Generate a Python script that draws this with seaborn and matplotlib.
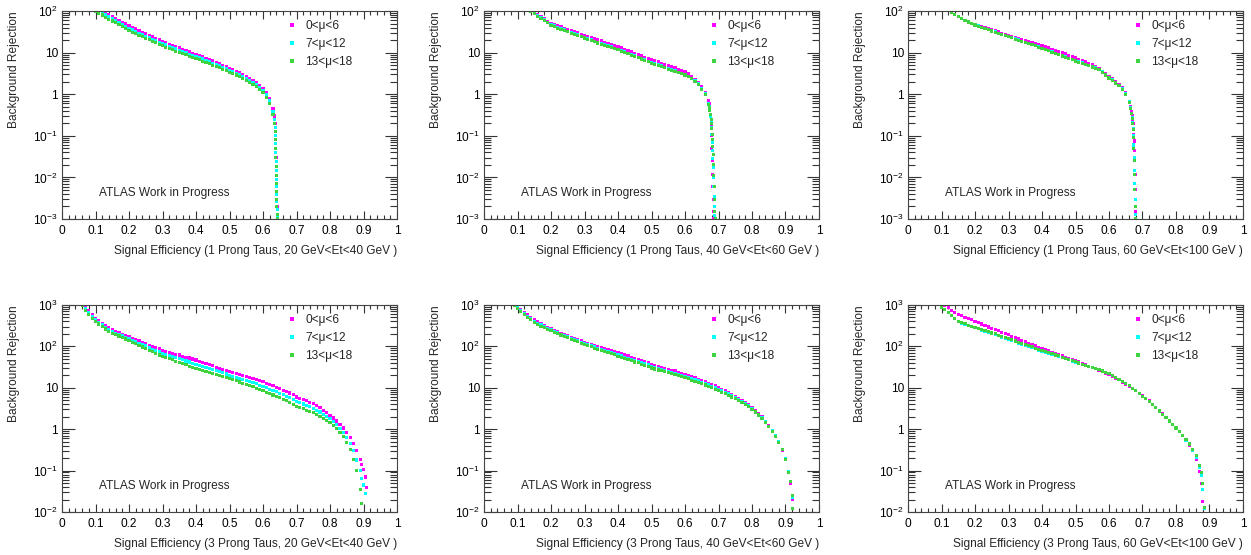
import numpy as np
import pandas as pd
import matplotlib
matplotlib.use("Agg")
import matplotlib.pyplot as plt
from matplotlib.ticker import MultipleLocator, FuncFormatter, LogLocator, NullFormatter
import seaborn as sns

# ---------------------------------------------------------------
# values (x = signal eff., y = bkg rejection)
# None = point lies outside the visible range for that series
# ---------------------------------------------------------------
labels = ["0<\u03bc<6", "7<\u03bc<12", "13<\u03bc<18"]
colors = ["#ff00ff", "#00ffff", "#3fd43f"]

# 1 prong, 20 GeV < Et < 40 GeV
x_1p_20 = [0.10, 0.11, 0.12, 0.13, 0.14, 0.15, 0.16, 0.17, 0.18, 0.19,
           0.20, 0.21, 0.22, 0.23, 0.24, 0.25, 0.26, 0.27, 0.28, 0.29,
           0.30, 0.31, 0.32, 0.33, 0.34, 0.35, 0.36, 0.37, 0.38, 0.39,
           0.40, 0.41, 0.42, 0.43, 0.44, 0.45, 0.46, 0.47, 0.48, 0.49,
           0.50, 0.51, 0.52, 0.53, 0.54, 0.55, 0.56, 0.57, 0.58, 0.59,
           0.60, 0.61, 0.62, 0.63,
           0.634, 0.636, 0.637, 0.638, 0.6385, 0.639, 0.6395, 0.640, 0.6405, 0.641,
           0.6415, 0.642, 0.6425, 0.643]
y_1p_20_mu0 = [None, None, 100, 90, 82, 74, 67, 60, 54, 49,
               44, 40.5, 37, 34, 31, 28.5, 26, 24, 22, 20.2,
               18.5, 17.2, 16, 14.9, 13.8, 12.9, 12, 11.2, 10.4, 9.7,
               9.1, 8.5, 7.9, 7.3, 6.8, 6.3, 5.9, 5.4, 5.0, 4.6,
               4.2, 3.9, 3.6, 3.3, 3.0, 2.7, 2.4, 2.15, 1.9, 1.65,
               1.4, 1.1, 0.8, 0.45,
               0.3, 0.2, 0.13, 0.08, 0.05, 0.03, 0.018, 0.011, 0.007, 0.0045,
               0.003, 0.002, 0.0013, 0.001]
y_1p_20_mu7 = [None, 100, 89, 80, 72, 65, 58.5, 52.5, 47, 42.5,
               38.5, 35, 32, 29.3, 27, 24.8, 22.8, 21, 19.3, 17.8,
               16.4, 15.2, 14.1, 13.1, 12.2, 11.4, 10.6, 9.9, 9.2, 8.6,
               8.1, 7.5, 7.0, 6.5, 6.0, 5.6, 5.2, 4.8, 4.45, 4.1,
               3.8, 3.5, 3.2, 2.95, 2.7, 2.42, 2.17, 1.92, 1.7, 1.47,
               1.25, 0.97, 0.7, 0.39,
               0.25, 0.16, 0.1, 0.065, 0.04, 0.024, 0.015, 0.009, 0.006, 0.004,
               0.0026, 0.0017, 0.0011, None]
y_1p_20_mu13 = [100, 89, 80, 71, 64, 57.5, 52, 46.5, 42, 38,
                34, 31, 28.5, 26, 24, 22, 20.2, 18.6, 17.1, 15.7,
                14.5, 13.4, 12.5, 11.6, 10.8, 10.1, 9.4, 8.8, 8.2, 7.7,
                7.2, 6.7, 6.2, 5.8, 5.4, 5.0, 4.7, 4.35, 4.0, 3.7,
                3.4, 3.15, 2.9, 2.65, 2.4, 2.17, 1.95, 1.72, 1.5, 1.3,
                1.1, 0.85, 0.6, 0.33,
                0.2, 0.13, 0.08, 0.05, 0.03, 0.018, 0.011, 0.007, 0.0045, 0.003,
                0.002, 0.0013, 0.001, None]

# 1 prong, 40 GeV < Et < 60 GeV
x_1p_40 = [0.13, 0.14, 0.15, 0.16, 0.17, 0.18, 0.19, 0.20, 0.21, 0.22,
           0.23, 0.24, 0.25, 0.26, 0.27, 0.28, 0.29, 0.30, 0.31, 0.32,
           0.33, 0.34, 0.35, 0.36, 0.37, 0.38, 0.39, 0.40, 0.41, 0.42,
           0.43, 0.44, 0.45, 0.46, 0.47, 0.48, 0.49, 0.50, 0.51, 0.52,
           0.53, 0.54, 0.55, 0.56, 0.57, 0.58, 0.59, 0.60, 0.61, 0.62,
           0.63, 0.64, 0.65, 0.66, 0.67,
           0.672, 0.674, 0.676, 0.678, 0.679, 0.680, 0.681, 0.682, 0.683, 0.684,
           0.685, 0.686, 0.687, 0.688, 0.689, 0.690]
y_1p_40_mu0 = [None, None, 95, 83, 72, 64.5, 57, 50, 46.8, 43.7,
               41.2, 38.5, 35.9, 33.9, 31.6, 29.9, 27.9, 26.3, 24.5, 22.9,
               21.6, 20.2, 19.1, 17.8, 16.8, 15.7, 14.8, 13.8, 12.9, 12.0,
               11.2, 10.5, 9.7, 9.0, 8.4, 7.8, 7.2, 6.8, 6.3, 5.96,
               5.56, 5.19, 4.9, 4.57, 4.27, 3.98, 3.72, 3.47, 3.09, 2.69,
               2.29, 1.9, 1.51, 1.12, 0.72,
               0.6, 0.45, 0.3, 0.18, 0.1, 0.05, 0.025, 0.012, 0.006, 0.003,
               0.0015, 0.001, None, None, None, None]
y_1p_40_mu7 = [None, 98, 88, 77, 68, 61, 54, 47, 43.5, 40,
               37.4, 34.9, 32.5, 30.4, 28.3, 26.5, 24.7, 23.1, 21.5, 20.1,
               18.7, 17.5, 16.5, 15.4, 14.4, 13.6, 12.7, 11.9, 11.1, 10.4,
               9.7, 9.0, 8.3, 7.7, 7.2, 6.7, 6.2, 5.8, 5.4, 5.05,
               4.75, 4.45, 4.15, 3.9, 3.65, 3.4, 3.2, 3.0, 2.7, 2.42,
               2.1, 1.78, 1.35, 1.02, 0.6,
               0.5, 0.4, 0.3, 0.22, 0.16, 0.11, 0.07, 0.045, 0.028, 0.017,
               0.01, 0.006, 0.0035, 0.002, 0.0012, None]
y_1p_40_mu13 = [None, 95, 85, 75, 66, 59, 52.5, 45.7, 42.2, 38.9,
                36.3, 33.9, 31.6, 29.5, 27.5, 25.7, 24.0, 22.4, 20.9, 19.5,
                18.2, 17.0, 16.0, 15.0, 14.0, 13.2, 12.3, 11.6, 10.8, 10.1,
                9.4, 8.7, 8.1, 7.5, 7.0, 6.5, 6.0, 5.6, 5.2, 4.9,
                4.6, 4.3, 4.0, 3.8, 3.55, 3.3, 3.1, 2.9, 2.6, 2.35,
                2.05, 1.74, 1.3, 1.0, 0.56,
                0.48, 0.4, 0.32, 0.25, 0.2, 0.15, 0.11, 0.08, 0.055, 0.035,
                0.02, 0.011, 0.006, 0.003, 0.0015, 0.001]

# 1 prong, 60 GeV < Et < 100 GeV
x_1p_60 = [0.12, 0.13, 0.14, 0.15, 0.16, 0.17, 0.18, 0.19, 0.20, 0.21,
           0.22, 0.23, 0.24, 0.25, 0.26, 0.27, 0.28, 0.29, 0.30, 0.31,
           0.32, 0.33, 0.34, 0.35, 0.36, 0.37, 0.38, 0.39, 0.40, 0.41,
           0.42, 0.43, 0.44, 0.45, 0.46, 0.47, 0.48, 0.49, 0.50, 0.51,
           0.52, 0.53, 0.54, 0.55, 0.56, 0.57, 0.58, 0.59, 0.60, 0.61,
           0.62, 0.63, 0.64, 0.65, 0.66,
           0.665, 0.668, 0.670, 0.671, 0.672, 0.673, 0.674, 0.675, 0.676, 0.677,
           0.678, 0.679, 0.680]
y_1p_60_mu0 = [None, 91, 81, 72, 66, 60, 55, 51, 48, 44.7,
               42.2, 39.4, 37.2, 35.1, 33.1, 31.3, 29.5, 27.9, 26.3, 24.8,
               23.4, 22.1, 20.9, 19.7, 18.6, 17.6, 16.4, 15.5, 14.5, 13.6,
               12.9, 12.0, 11.4, 10.7, 10.0, 9.3, 8.7, 8.1, 7.5, 6.9,
               6.5, 6.0, 5.6, 5.1, 4.7, 4.15, 3.6, 3.2, 2.7, 2.35,
               2.0, 1.74, 1.45, 1.1, 0.68,
               0.5, 0.38, 0.3, 0.25, 0.2, 0.15, 0.11, 0.075, 0.045, 0.025,
               0.012, 0.005, 0.0015]
y_1p_60_mu7 = [None, 92, 82, 73, 66, 60, 55, 50.5, 46.7, 43.6,
               40.7, 38, 35.5, 33.4, 31.2, 29.5, 27.5, 26, 24.3, 22.9,
               21.4, 20.2, 18.8, 17.8, 16.6, 15.7, 14.7, 13.7, 12.8, 11.9,
               11.2, 10.4, 9.7, 9.1, 8.5, 7.9, 7.3, 6.9, 6.4, 6.0,
               5.7, 5.3, 4.9, 4.6, 4.3, 3.95, 3.5, 3.0, 2.55, 2.2,
               1.9, 1.62, 1.35, 1.02, 0.65,
               0.47, 0.35, 0.27, 0.21, 0.15, 0.1, 0.06, 0.03, 0.015, 0.007,
               0.003, 0.0013, None]
y_1p_60_mu13 = [None, 91, 81, 72, 65, 59.6, 54.3, 50, 46.2, 43.2,
                40.3, 37.6, 35.1, 33.1, 30.9, 29.2, 27.2, 25.7, 24.0, 22.6,
                21.1, 20.0, 18.6, 17.6, 16.4, 15.5, 14.5, 13.5, 12.6, 11.7,
                11.0, 10.2, 9.5, 8.9, 8.3, 7.8, 7.2, 6.8, 6.3, 5.9,
                5.6, 5.2, 4.8, 4.5, 4.2, 3.85, 3.4, 2.9, 2.45, 2.14,
                1.86, 1.58, 1.32, 1.0, 0.63,
                0.46, 0.34, 0.26, 0.2, 0.14, 0.09, 0.05, 0.025, 0.012, 0.005,
                0.002, 0.001, None]

# 3 prong, 20 GeV < Et < 40 GeV
x_3p_20 = [0.06, 0.07, 0.08, 0.09, 0.10, 0.11, 0.12, 0.13, 0.14, 0.15,
           0.16, 0.17, 0.18, 0.19, 0.20, 0.21, 0.22, 0.23, 0.24, 0.25,
           0.26, 0.27, 0.28, 0.29, 0.30, 0.31, 0.32, 0.33, 0.34, 0.35,
           0.36, 0.37, 0.38, 0.39, 0.40, 0.41, 0.42, 0.43, 0.44, 0.45,
           0.46, 0.47, 0.48, 0.49, 0.50, 0.51, 0.52, 0.53, 0.54, 0.55,
           0.56, 0.57, 0.58, 0.59, 0.60, 0.61, 0.62, 0.63, 0.64, 0.65,
           0.66, 0.67, 0.68, 0.69, 0.70, 0.71, 0.72, 0.73, 0.74, 0.75,
           0.76, 0.77, 0.78, 0.79, 0.80, 0.81, 0.82, 0.83, 0.84, 0.85,
           0.86, 0.87, 0.88, 0.89,
           0.895, 0.900, 0.905, 0.910]
y_3p_20_mu0 = [None, 890, 725, 590, 480, 417, 363, 324, 285, 251,
               229, 211, 195, 182, 170, 157, 145, 135, 124, 116,
               107, 100, 93, 87, 81, 77, 72, 69, 65, 62,
               58, 55, 52.5, 49.5, 47, 44, 41, 38.5, 36, 34,
               31.6, 29.9, 27.9, 26.3, 24.5, 23.2, 21.9, 20.7, 19.5, 18.6,
               17.6, 16.6, 15.7, 14.8, 14.0, 13.0, 12.0, 11.2, 10.4, 9.5,
               8.8, 8.1, 7.5, 6.8, 6.0, 5.6, 5.25, 4.85, 4.5, 4.2,
               3.7, 3.3, 2.9, 2.5, 2.16, 1.86, 1.58, 1.32, 1.07, 0.83,
               0.63, 0.46, 0.30, 0.19,
               0.14, 0.107, 0.07, 0.04]
y_3p_20_mu7 = [None, 810, 655, 530, 440, 380, 330, 292, 258, 229,
               210, 194, 179, 166, 154, 141, 130, 120, 110, 102,
               93, 86, 80, 74, 68, 64, 60, 57, 53.5, 50.5,
               47.3, 44.4, 42, 39.5, 37.2, 35, 32.8, 30.9, 29, 27.4,
               25.7, 24.5, 22.9, 21.6, 20.3, 19.1, 18, 16.9, 15.9, 14.9,
               14, 13.2, 12.4, 11.6, 10.9, 10.1, 9.3, 8.7, 8.0, 7.4,
               6.8, 6.3, 5.8, 5.2, 4.65, 4.35, 4.05, 3.75, 3.5, 3.2,
               2.9, 2.6, 2.3, 2.02, 1.77, 1.51, 1.27, 1.05, 0.83, 0.63,
               0.45, 0.3, 0.18, 0.1,
               0.065, 0.045, 0.028, None]
y_3p_20_mu13 = [955, 740, 590, 480, 400, 347, 302, 263, 234, 209,
                193, 178, 164, 151, 140, 127, 116, 106, 97, 89,
                81, 74, 68, 62, 57.5, 53.7, 50, 47.3, 44.2, 41.2,
                38.5, 35.9, 33.5, 31.6, 29.5, 27.9, 26.3, 24.8, 23.4, 22.1,
                20.9, 20.0, 18.8, 17.8, 16.8, 15.8, 14.8, 13.8, 12.9, 12.0,
                11.2, 10.5, 9.8, 9.1, 8.5, 7.85, 7.2, 6.7, 6.2, 5.7,
                5.25, 4.85, 4.5, 4.0, 3.6, 3.4, 3.15, 2.9, 2.7, 2.5,
                2.3, 2.07, 1.84, 1.64, 1.45, 1.23, 1.02, 0.83, 0.65, 0.48,
                0.32, 0.19, 0.1, 0.035,
                0.016, None, None, None]

# 3 prong, 40 GeV < Et < 60 GeV
x_3p_40 = [0.09, 0.10, 0.11, 0.12, 0.13, 0.14, 0.15, 0.16, 0.17, 0.18,
           0.19, 0.20, 0.21, 0.22, 0.23, 0.24, 0.25, 0.26, 0.27, 0.28,
           0.29, 0.30, 0.31, 0.32, 0.33, 0.34, 0.35, 0.36, 0.37, 0.38,
           0.39, 0.40, 0.41, 0.42, 0.43, 0.44, 0.45, 0.46, 0.47, 0.48,
           0.49, 0.50, 0.51, 0.52, 0.53, 0.54, 0.55, 0.56, 0.57, 0.58,
           0.59, 0.60, 0.61, 0.62, 0.63, 0.64, 0.65, 0.66, 0.67, 0.68,
           0.69, 0.70, 0.71, 0.72, 0.73, 0.74, 0.75, 0.76, 0.77, 0.78,
           0.79, 0.80, 0.81, 0.82, 0.83, 0.84, 0.85, 0.86, 0.87, 0.88,
           0.89, 0.90, 0.91,
           0.915, 0.920, 0.922]
y_3p_40_mu0 = [None, 890, 760, 660, 575, 500, 437, 390, 350, 316,
               288, 263, 243, 224, 209, 193, 180, 166, 155, 145,
               135, 126, 119, 112, 106, 100, 94, 89, 85, 80,
               76, 72, 67, 62, 59, 55, 51, 48.4, 45.2, 42.2,
               39.8, 37.2, 35.1, 33.1, 31.6, 29.9, 28.2, 26.6, 25.4, 24.0,
               22.6, 21.4, 20.0, 18.6, 17.4, 16.2, 15.1, 14.1, 13.0, 12.0,
               11.1, 10.2, 9.3, 8.5, 7.8, 7.0, 6.3, 5.6, 5.0, 4.4,
               3.85, 3.3, 2.8, 2.37, 1.97, 1.55, 1.2, 0.91, 0.68, 0.48,
               0.31, 0.19, 0.09,
               0.05, 0.02, None]
y_3p_40_mu7 = [None, 850, 720, 620, 540, 465, 405, 365, 328, 298,
               273, 250, 231, 213, 197, 182, 170, 157, 145, 136,
               126, 117, 110, 104, 97, 91, 86, 81, 77, 72,
               67, 63, 59, 55, 52, 48.5, 45.5, 43, 40.5, 38,
               35.5, 33, 31.2, 29.5, 28, 26.6, 25.1, 23.8, 22.6, 21.3,
               20.1, 19, 17.9, 16.8, 15.8, 14.7, 13.7, 12.8, 11.9, 11.0,
               10.1, 9.2, 8.5, 7.8, 7.1, 6.5, 5.9, 5.3, 4.7, 4.15,
               3.65, 3.15, 2.7, 2.3, 1.92, 1.53, 1.19, 0.92, 0.69, 0.5,
               0.33, 0.2, 0.095,
               0.055, 0.022, None]
y_3p_40_mu13 = [1000, 810, 690, 590, 510, 440, 380, 343, 309, 282,
                260, 240, 221, 204, 188, 174, 162, 150, 138, 129,
                119, 110, 104, 98, 91, 86, 81, 76, 72, 68,
                63, 58, 55, 51, 48, 45, 42, 40, 37, 35,
                32.5, 30, 28.5, 26.9, 25.7, 24.3, 22.9, 21.9, 20.7, 19.5,
                18.4, 17.4, 16.4, 15.3, 14.5, 13.5, 12.6, 11.7, 11.0, 10.1,
                9.2, 8.5, 7.85, 7.2, 6.5, 6.0, 5.5, 4.95, 4.4, 3.9,
                3.5, 3.0, 2.6, 2.2, 1.84, 1.48, 1.15, 0.88, 0.66, 0.48,
                0.32, 0.19, 0.09,
                0.055, 0.025, 0.012]

# 3 prong, 60 GeV < Et < 100 GeV
x_3p_60 = [0.09, 0.10, 0.11, 0.12, 0.13, 0.14, 0.15, 0.16, 0.17, 0.18,
           0.19, 0.20, 0.21, 0.22, 0.23, 0.24, 0.25, 0.26, 0.27, 0.28,
           0.29, 0.30, 0.31, 0.32, 0.33, 0.34, 0.35, 0.36, 0.37, 0.38,
           0.39, 0.40, 0.41, 0.42, 0.43, 0.44, 0.45, 0.46, 0.47, 0.48,
           0.49, 0.50, 0.51, 0.52, 0.53, 0.54, 0.55, 0.56, 0.57, 0.58,
           0.59, 0.60, 0.61, 0.62, 0.63, 0.64, 0.65, 0.66, 0.67, 0.68,
           0.69, 0.70, 0.71, 0.72, 0.73, 0.74, 0.75, 0.76, 0.77, 0.78,
           0.79, 0.80, 0.81, 0.82, 0.83, 0.84, 0.85, 0.86, 0.87,
           0.875, 0.880, 0.885]
y_3p_60_mu0 = [None, None, 955, 850, 740, 660, 596, 550, 507, 468,
               437, 407, 376, 347, 320, 295, 275, 254, 237, 219,
               204, 190, 176, 162, 151, 140, 129, 119, 110, 102,
               95, 89, 83, 78, 72, 68, 63, 59, 55, 51,
               48, 45, 42, 39, 36, 33.5, 31, 28.8, 26.6, 24.5,
               22.6, 21, 19, 17.2, 15.5, 13.8, 12.3, 10.8, 9.5, 8.4,
               7.4, 6.5, 5.6, 4.8, 4.0, 3.4, 2.8, 2.35, 1.95, 1.6,
               1.32, 1.07, 0.87, 0.69, 0.54, 0.41, 0.3, 0.19, 0.095,
               0.05, 0.018, None]
y_3p_60_mu7 = [None, 900, 765, 645, 545, 465, 400, 368, 342, 320,
               300, 283, 264, 249, 232, 218, 204, 192, 179, 168,
               157, 148, 139, 129, 120, 112, 105, 99, 93, 87,
               82, 77, 73, 68, 64, 60, 57, 53.5, 50, 47.3,
               44.4, 42, 39.2, 36.8, 34.7, 32.4, 30.6, 28.6, 27, 25.2,
               23.6, 22, 20, 18, 16.1, 14.2, 12.6, 11.1, 9.7, 8.4,
               7.3, 6.3, 5.4, 4.7, 3.95, 3.3, 2.75, 2.3, 1.9, 1.58,
               1.3, 1.07, 0.88, 0.7, 0.55, 0.43, 0.31, 0.21, 0.12,
               0.075, 0.035, 0.012]
y_3p_60_mu13 = [None, 890, 760, 645, 550, 473, 407, 376, 350, 327,
                309, 292, 272, 257, 240, 226, 211, 200, 186, 176,
                164, 155, 145, 135, 126, 117, 110, 104, 98, 91,
                86, 81, 76, 71, 66, 62, 59, 55, 51, 48.4,
                45.2, 42.7, 39.8, 37.2, 35.1, 32.7, 30.9, 28.8, 27.2, 25.4,
                23.7, 22.1, 20, 18, 16, 14.1, 12.6, 11.1, 9.7, 8.4,
                7.3, 6.3, 5.4, 4.7, 3.9, 3.3, 2.75, 2.3, 1.9, 1.58,
                1.3, 1.07, 0.88, 0.71, 0.56, 0.44, 0.33, 0.23, 0.13,
                0.09, 0.05, 0.0126]

panels = [
    (x_1p_20, [y_1p_20_mu0, y_1p_20_mu7, y_1p_20_mu13], "Signal Efficiency (1 Prong Taus, 20 GeV<Et<40 GeV )", (1e-3, 1e2)),
    (x_1p_40, [y_1p_40_mu0, y_1p_40_mu7, y_1p_40_mu13], "Signal Efficiency (1 Prong Taus, 40 GeV<Et<60 GeV )", (1e-3, 1e2)),
    (x_1p_60, [y_1p_60_mu0, y_1p_60_mu7, y_1p_60_mu13], "Signal Efficiency (1 Prong Taus, 60 GeV<Et<100 GeV )", (1e-3, 1e2)),
    (x_3p_20, [y_3p_20_mu0, y_3p_20_mu7, y_3p_20_mu13], "Signal Efficiency (3 Prong Taus, 20 GeV<Et<40 GeV )", (1e-2, 1e3)),
    (x_3p_40, [y_3p_40_mu0, y_3p_40_mu7, y_3p_40_mu13], "Signal Efficiency (3 Prong Taus, 40 GeV<Et<60 GeV )", (1e-2, 1e3)),
    (x_3p_60, [y_3p_60_mu0, y_3p_60_mu7, y_3p_60_mu13], "Signal Efficiency (3 Prong Taus, 60 GeV<Et<100 GeV )", (1e-2, 1e3)),
]

sns.set_style("ticks")
plt.rcParams["font.family"] = ["Liberation Sans", "DejaVu Sans"]
plt.rcParams["mathtext.default"] = "regular"
FS = 8.6


def root_log_fmt(v, pos):
    # ROOT style: 1 and 10 written plainly, everything else as a power of ten
    if np.isclose(v, 1):
        return "1"
    if np.isclose(v, 10):
        return "10"
    return "$10^{%d}$" % int(round(np.log10(v)))


def x_fmt(v, pos):
    if np.isclose(v, 0):
        return "0"
    if np.isclose(v, 1):
        return "1"
    return "%.1f" % v


fig = plt.figure(figsize=(12.51, 5.55), dpi=100)
W, H = 1251.0, 555.0
lefts = [62, 484, 908]
rows = [(11, 219), (305, 512)]

for i, (xs, ys, xlabel, ylim) in enumerate(panels):
    r, c = divmod(i, 3)
    top, bot = rows[r]
    ax = fig.add_axes([lefts[c] / W, (H - bot) / H, 335 / W, (bot - top) / H])

    frames = []
    for lab, yv in zip(labels, ys):
        frames.append(pd.DataFrame({"eff": xs, "rej": yv, "mu": lab}))
    df = pd.concat(frames, ignore_index=True).dropna()
    sns.scatterplot(data=df, x="eff", y="rej", hue="mu", hue_order=labels,
                    palette=colors, marker="s", s=5, linewidth=0, ax=ax)

    ax.set_yscale("log")
    ax.set_xlim(0, 1)
    ax.set_ylim(*ylim)

    ax.xaxis.set_major_locator(MultipleLocator(0.1))
    ax.xaxis.set_minor_locator(MultipleLocator(0.02))
    ax.xaxis.set_major_formatter(FuncFormatter(x_fmt))
    ax.yaxis.set_major_locator(LogLocator(base=10, numticks=10))
    ax.yaxis.set_minor_locator(LogLocator(base=10, subs=np.arange(2, 10), numticks=10))
    ax.yaxis.set_major_formatter(FuncFormatter(root_log_fmt))
    ax.yaxis.set_minor_formatter(NullFormatter())

    ax.tick_params(which="both", direction="in", top=True, right=True,
                   labelsize=FS, colors="#333333", width=0.8)
    ax.tick_params(axis="x", which="major", length=6, pad=4)
    ax.tick_params(axis="x", which="minor", length=3)
    ax.tick_params(axis="y", which="major", length=9, pad=3)
    ax.tick_params(axis="y", which="minor", length=5)
    ax.tick_params(labelcolor="black")
    for sp in ax.spines.values():
        sp.set_color("#444444")
        sp.set_linewidth(0.8)

    ax.set_xlabel(xlabel, fontsize=FS, loc="right", labelpad=6)
    ax.set_ylabel("Background Rejection", fontsize=FS, loc="top")
    ax.yaxis.set_label_coords(-0.125, 1.0)

    ax.text(0.11, 0.125, "ATLAS Work in Progress", transform=ax.transAxes,
            fontsize=FS, ha="left", va="center")

    ax.legend(loc="upper left", bbox_to_anchor=(0.672, 0.958), frameon=False,
              fontsize=FS, borderpad=0, borderaxespad=0, handlelength=0.8,
              handletextpad=0.7, labelspacing=0.52, markerscale=1.0)

fig.savefig("out.png", dpi=100)
